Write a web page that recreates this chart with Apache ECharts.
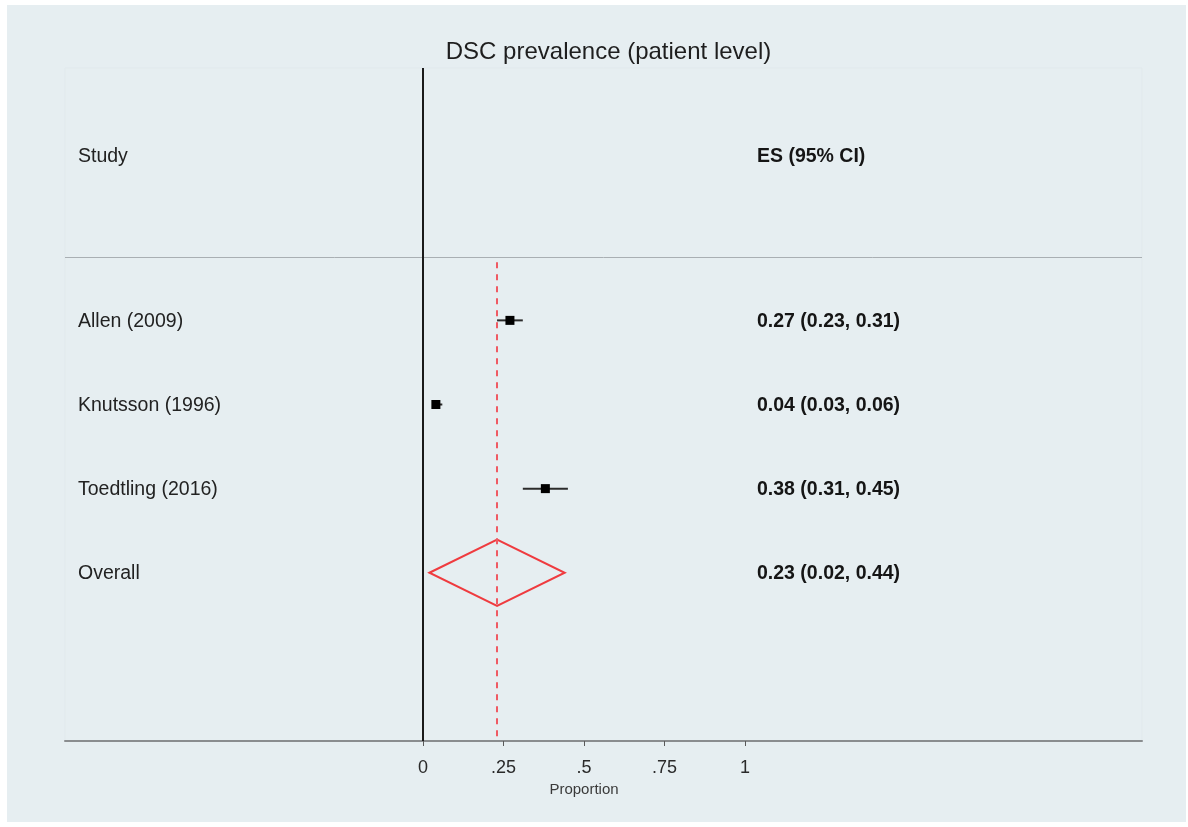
<!DOCTYPE html>
<html>
<head>
<meta charset="utf-8">
<script src="https://cdn.jsdelivr.net/npm/echarts@6/dist/echarts.min.js"></script>
<style>
  html, body { margin: 0; padding: 0; background: #ffffff; }
  #chart { width: 1188px; height: 827px; }
</style>
</head>
<body>
<div id="chart"></div>
<script>
// Forest plot data: one entry per study, plus the pooled estimate
const studies = ['Allen (2009)', 'Knutsson (1996)', 'Toedtling (2016)'];
const es      = [0.27, 0.04, 0.38];
const ciLow   = [0.23, 0.03, 0.31];
const ciHigh  = [0.31, 0.06, 0.45];

const overallLabel = 'Overall';
const overallES    = 0.23;
const overallLow   = 0.02;
const overallHigh  = 0.44;

const tickValues = [0, 0.25, 0.5, 0.75, 1];
const tickLabels = ['0', '.25', '.5', '.75', '1'];

const titleText  = 'DSC prevalence (patient level)';
const headStudy  = 'Study';
const headES     = 'ES (95% CI)';
const axisName   = 'Proportion';

// Row positions on the vertical (inverted) scale
const headerRow = 1.04;
const dividerRow = 2.25;
const firstRow = 3;
const overallRow = firstRow + studies.length;

const fmt = v => v.toFixed(2);
const esText = (e, l, h) => fmt(e) + ' (' + fmt(l) + ', ' + fmt(h) + ')';

// Tables built from the arrays above
const studyRows = studies.map((s, i) => [firstRow + i, es[i], ciLow[i], ciHigh[i]]);
const textRows = [
  { row: headerRow, left: headStudy, right: headES }
].concat(studies.map((s, i) => ({ row: firstRow + i, left: s, right: esText(es[i], ciLow[i], ciHigh[i]) })))
 .concat([{ row: overallRow, left: overallLabel, right: esText(overallES, overallLow, overallHigh) }]);

// Plot layout: wide panel spans the whole plot region, scale panel holds 0..1
const plotLeft = 65, plotRight = 1142, plotTop = 68, plotBottom = 741;
const zeroX = 423, oneX = 745;
const pxPerUnit = oneX - zeroX;
const wideMin = -(zeroX - plotLeft) / pxPerUnit;
const wideMax = (plotRight - zeroX) / pxPerUnit;
const rowMax = 8;

const fontFam = '"Liberation Sans", Arial, Helvetica, sans-serif';

const chart = echarts.init(document.getElementById('chart'), null, { renderer: 'canvas' });

const option = {
  backgroundColor: '#ffffff',
  animation: false,
  graphic: [{
    type: 'rect', z: -10, silent: true,
    shape: { x: 7, y: 5, width: 1179, height: 817 },
    style: { fill: '#e6eef1' }
  }],
  title: {
    text: titleText,
    left: (plotLeft + plotRight) / 2,
    textAlign: 'center',
    top: 35,
    textStyle: { fontFamily: fontFam, fontSize: 24, fontWeight: 'normal', color: '#1e1e1e' }
  },
  grid: [
    { left: plotLeft, right: 1188 - plotRight, top: plotTop, bottom: 827 - plotBottom,
      show: true, backgroundColor: 'transparent', borderColor: '#e1e9ec', borderWidth: 1 },
    { left: zeroX, width: pxPerUnit, top: plotTop, bottom: 827 - plotBottom }
  ],
  xAxis: [
    { gridIndex: 0, type: 'value', min: wideMin, max: wideMax,
      axisLine: { show: true, onZero: false, lineStyle: { color: '#8a8d8f', width: 2 } },
      axisTick: { show: false }, axisLabel: { show: false }, splitLine: { show: false } },
    { gridIndex: 1, type: 'value', min: 0, max: 1, interval: 0.25,
      axisLine: { show: false, onZero: false },
      axisTick: { show: true, length: 5, lineStyle: { color: '#5a5a5a', width: 1 } },
      axisLabel: {
        margin: 18, fontFamily: fontFam, fontSize: 18, color: '#2a2a2a',
        formatter: v => { const k = tickValues.indexOf(+v.toFixed(2)); return k >= 0 ? tickLabels[k] : ''; }
      },
      splitLine: { show: false },
      name: axisName, nameLocation: 'middle', nameGap: 41,
      nameTextStyle: { fontFamily: fontFam, fontSize: 15, color: '#3a3a3a' } }
  ],
  yAxis: [
    { gridIndex: 0, type: 'value', min: 0, max: rowMax, inverse: true, show: false },
    { gridIndex: 1, type: 'value', min: 0, max: rowMax, inverse: true, show: false }
  ],
  series: [
    // header divider
    {
      type: 'line', xAxisIndex: 0, yAxisIndex: 0, data: [], silent: true,
      markLine: {
        symbol: 'none', silent: true, label: { show: false },
        lineStyle: { color: '#a9afb3', width: 1, type: 'solid' },
        data: [{ yAxis: dividerRow }]
      }
    },
    // no-effect line at zero and pooled estimate line
    {
      type: 'line', xAxisIndex: 1, yAxisIndex: 1, data: [], silent: true,
      markLine: {
        symbol: 'none', silent: true, label: { show: false },
        data: [
          { xAxis: 0, lineStyle: { color: '#1a1a1a', width: 2, type: 'solid' } },
          [
            { coord: [overallES, dividerRow + 0.06], lineStyle: { color: '#ef5a63', width: 2, type: [6, 6] } },
            { coord: [overallES, rowMax] }
          ]
        ]
      }
    },
    // study estimates with confidence intervals
    {
      type: 'custom', xAxisIndex: 1, yAxisIndex: 1, clip: false,
      data: studyRows,
      renderItem: (params, api) => {
        const row = api.value(0);
        const c = api.coord([api.value(1), row]);
        const l = api.coord([api.value(2), row]);
        const h = api.coord([api.value(3), row]);
        const s = 9;
        return {
          type: 'group',
          children: [
            { type: 'line', shape: { x1: l[0], y1: l[1], x2: h[0], y2: h[1] },
              style: { stroke: '#2b2b2b', lineWidth: 2 } },
            { type: 'rect', shape: { x: c[0] - s / 2, y: c[1] - s / 2, width: s, height: s },
              style: { fill: '#000000' } }
          ]
        };
      }
    },
    // pooled estimate diamond
    {
      type: 'custom', xAxisIndex: 1, yAxisIndex: 1, clip: false,
      data: [[overallRow, overallES, overallLow, overallHigh]],
      renderItem: (params, api) => {
        const row = api.value(0);
        const half = 0.395;
        const pts = [
          api.coord([api.value(2), row]),
          api.coord([api.value(1), row - half]),
          api.coord([api.value(3), row]),
          api.coord([api.value(1), row + half])
        ];
        return {
          type: 'polygon', shape: { points: pts },
          style: { fill: 'none', stroke: '#ef3b3f', lineWidth: 2 }
        };
      }
    },
    // text columns: study names and effect sizes
    {
      type: 'custom', xAxisIndex: 1, yAxisIndex: 1, clip: false,
      data: textRows.map(r => [r.row]),
      renderItem: (params, api) => {
        const r = textRows[params.dataIndex];
        const y = api.coord([0, api.value(0)])[1] + 1;
        const rightX = api.coord([1, 0])[0] + 12;
        return {
          type: 'group',
          children: [
            { type: 'text', x: plotLeft + 13, y: y,
              style: { text: r.left, fontFamily: fontFam, fontSize: 19.5, fill: '#222222',
                       textVerticalAlign: 'middle', textAlign: 'left' } },
            { type: 'text', x: rightX, y: y,
              style: { text: r.right, fontFamily: fontFam, fontSize: 19.5, fontWeight: 'bold', fill: '#151515',
                       textVerticalAlign: 'middle', textAlign: 'left' } }
          ]
        };
      }
    }
  ]
};

chart.setOption(option);
</script>
</body>
</html>
